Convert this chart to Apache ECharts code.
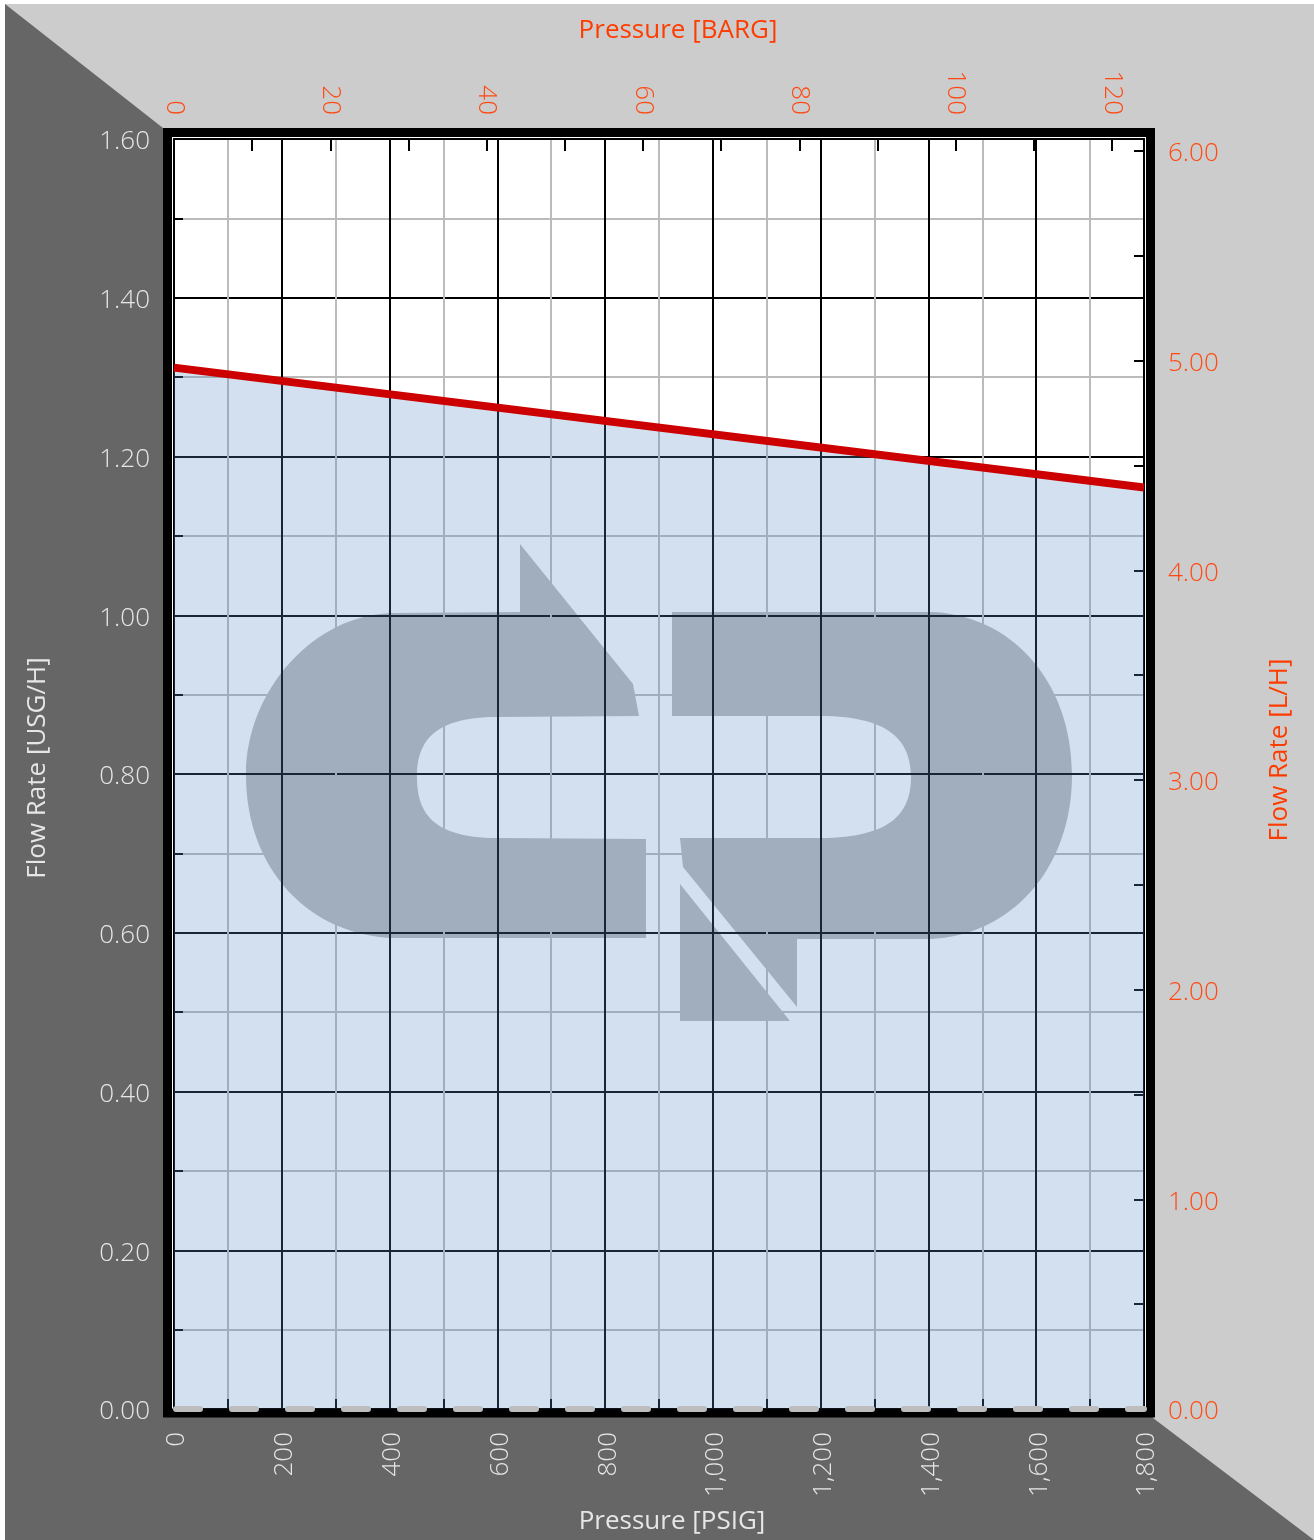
<!DOCTYPE html>
<html><head><meta charset="utf-8">
<script src="https://cdn.jsdelivr.net/npm/echarts@6/dist/echarts.min.js"></script>
<style>html,body{margin:0;padding:0;background:#fff}#c{width:1314px;height:1540px}</style>
</head><body><div id="c"></div>
<script>
// ---- data ----
const pressurePsig = [0, 1800];
const flowUsgh = [1.312, 1.161];
// ---- tick labels ----
const psigLabels = [0, 200, 400, 600, 800, 1000, 1200, 1400, 1600, 1800];
const bargLabels = [0, 20, 40, 60, 80, 100, 120];
const usgLabels = [0, 0.2, 0.4, 0.6, 0.8, 1.0, 1.2, 1.4, 1.6];
const lphLabels = [0, 1, 2, 3, 4, 5, 6];

const PSI_PER_BAR = 14.5038;
const L_PER_USG = 3.78541;
const PSIG_MAX = 1800, USG_MAX = 1.6;

const FONT = '"Open Sans", "Noto Sans", sans-serif';
const LIGHT = '#e6e6e6';
const ORANGE = '#ff4a14';

const has = (arr, v) => arr.some(t => Math.abs(t - v) < 1e-6);
const comma = v => String(v).replace(/\B(?=(\d{3})+(?!\d))/g, ',');

const labelBase = { fontFamily: FONT, fontSize: 26, fontWeight: 300 };
const shifted = color => ({ s: { fontFamily: FONT, fontSize: 26, fontWeight: 300, color, padding: [6, 0, 0, 0] } });

// decorative watermark logo
const logoLeft = 'M395 613 L520 612 L520 544 L633 684 L639 716 L497 717 C430 717 417 745 417 777 C417 810 430 838 497 838 L646 839 L646 938 L395 938 C310 936 246 870 246 775 C246 690 315 613 395 613 Z';
const logoRight = 'M672 612 L930 612 C1010 614 1072 680 1072 775 C1072 870 1010 936 930 939 L797 939 L797 1007 L683 867 L680 838 L820 838 C895 838 911 810 911 777 C911 745 895 716 820 716 L672 716 Z';
const logoTri = 'M680 884 L680 1021 L790 1021 Z';
echarts.graphic.registerShape('logoLeft', echarts.graphic.extendPath(logoLeft, {}));
echarts.graphic.registerShape('logoRight', echarts.graphic.extendPath(logoRight, {}));
echarts.graphic.registerShape('logoTri', echarts.graphic.extendPath(logoTri, {}));

const chart = echarts.init(document.getElementById('c'), null, { renderer: 'canvas' });

const nameFont = '400 26px ' + FONT;

chart.setOption({
  animation: false,
  backgroundColor: '#ffffff',
  grid: { left: 174, right: 170, top: 139, bottom: 131, outerBoundsMode: 'none', containLabel: false },
  graphic: { elements: [
    { type: 'rect', z: 0, silent: true, shape: { x: 5, y: 4, width: 1309, height: 1536 }, style: { fill: '#666666' } },
    { type: 'polygon', z: 0, z2: 1, silent: true, shape: { points: [[5,4],[1314,4],[1314,1540],[1153,1418],[1153,128],[163,128]] }, style: { fill: '#cccccc' } },
    { type: 'rect', z: 0, z2: 2, silent: true, shape: { x: 172, y: 137, width: 974, height: 1272 }, style: { fill: '#ffffff' } },
    { type: 'logoLeft', z: 1, silent: true, shape: {}, style: { fill: '#bbbbbb' } },
    { type: 'logoRight', z: 1, silent: true, shape: {}, style: { fill: '#bbbbbb' } },
    { type: 'logoTri', z: 1, silent: true, shape: {}, style: { fill: '#bbbbbb' } },
    { type: 'rect', z: 10, silent: true, shape: { x: 167.5, y: 132.5, width: 983, height: 1280.5 }, style: { fill: 'transparent', stroke: '#000', lineWidth: 9 } },
    { type: 'line', z: 11, silent: true, shape: { x1: 176, y1: 1409, x2: 1144, y2: 1409 }, style: { stroke: '#bdbdbd', lineWidth: 6, lineDash: [24, 32], lineCap: 'round' } },
    { type: 'text', z: 12, x: 678, y: 31, style: { text: 'Pressure [BARG]', fill: '#ff3c00', font: nameFont, textAlign: 'center', textVerticalAlign: 'middle' } },
    { type: 'text', z: 12, x: 672, y: 1522, style: { text: 'Pressure [PSIG]', fill: LIGHT, font: nameFont, textAlign: 'center', textVerticalAlign: 'middle' } },
    { type: 'text', z: 12, x: 38, y: 768, rotation: Math.PI / 2, style: { text: 'Flow Rate [USG/H]', fill: LIGHT, font: nameFont, textAlign: 'center', textVerticalAlign: 'middle' } },
    { type: 'text', z: 12, x: 1280, y: 750, rotation: Math.PI / 2, style: { text: 'Flow Rate [L/H]', fill: '#ff3c00', font: nameFont, textAlign: 'center', textVerticalAlign: 'middle' } }
  ]},
  xAxis: [
    {
      type: 'value', position: 'bottom', z: 2, min: 0, max: PSIG_MAX, interval: 100,
      axisLine: { show: false },
      axisTick: { show: true, inside: true, length: 10, lineStyle: { color: '#000', width: 2 } },
      splitLine: { show: true, lineStyle: { color: ['#000000', '#bbbbbb'], width: 2 } },
      axisLabel: { ...labelBase, color: LIGHT, rotate: 90, margin: 23, showMinLabel: true, showMaxLabel: true,
        rich: shifted(LIGHT),
        formatter: v => has(psigLabels, v) ? '{s|' + comma(Math.round(v)) + '}' : '' }
    },
    {
      type: 'value', position: 'top', z: 2, min: 0, max: PSIG_MAX / PSI_PER_BAR, interval: 10,
      axisLine: { show: true, onZero: false, lineStyle: { color: '#000', width: 2 } },
      axisTick: { show: true, inside: true, length: 12, lineStyle: { color: '#000', width: 2 } },
      splitLine: { show: false },
      axisLabel: { ...labelBase, color: ORANGE, rotate: 90, margin: 24, showMinLabel: true,
        formatter: v => has(bargLabels, v) ? String(Math.round(v)) : '' }
    }
  ],
  yAxis: [
    {
      type: 'value', position: 'left', z: 2, min: 0, max: USG_MAX, interval: 0.1,
      axisLine: { show: true, onZero: false, lineStyle: { color: '#000', width: 2 } },
      axisTick: { show: true, inside: true, length: 9, lineStyle: { color: '#000', width: 2 } },
      splitLine: { show: true, lineStyle: { color: ['#000000', '#bbbbbb'], width: 2 } },
      axisLabel: { ...labelBase, color: LIGHT, margin: 24, showMinLabel: true, showMaxLabel: true,
        rich: shifted(LIGHT),
        formatter: v => has(usgLabels, v) ? '{s|' + v.toFixed(2) + '}' : '' }
    },
    {
      type: 'value', position: 'right', z: 2, min: 0, max: USG_MAX * L_PER_USG, interval: 0.5,
      axisLine: { show: true, onZero: false, lineStyle: { color: '#000', width: 2 } },
      axisTick: { show: true, inside: true, length: 10, lineStyle: { color: '#000', width: 2 } },
      splitLine: { show: false },
      axisLabel: { ...labelBase, color: ORANGE, margin: 24, showMinLabel: true,
        rich: shifted(ORANGE),
        formatter: v => has(lphLabels, v) ? '{s|' + v.toFixed(2) + '}' : '' }
    }
  ],
  series: [{
    type: 'line', xAxisIndex: 0, yAxisIndex: 0, z: 3,
    data: pressurePsig.map((p, i) => [p, flowUsgh[i]]),
    symbol: 'none', silent: true,
    lineStyle: { color: '#cc0000', width: 8 },
    areaStyle: { color: 'rgba(90,140,200,0.27)', opacity: 1, origin: 'start' }
  }]
});
</script></body></html>
